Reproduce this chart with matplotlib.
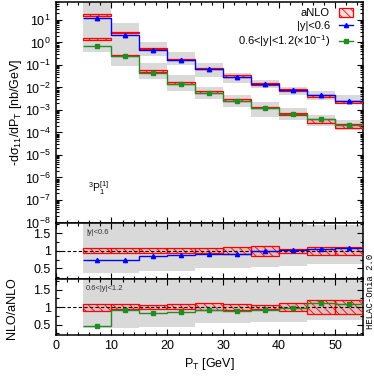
import matplotlib
matplotlib.use("Agg")
import matplotlib.pyplot as plt
import numpy as np
from matplotlib.patches import Patch
from matplotlib.lines import Line2D
from matplotlib.ticker import MultipleLocator, LogLocator, NullFormatter

plt.rcParams['font.family'] = ['Liberation Sans', 'DejaVu Sans']
plt.rcParams['mathtext.fontset'] = 'custom'
plt.rcParams['mathtext.rm'] = 'Liberation Sans'
plt.rcParams['mathtext.it'] = 'Liberation Sans:italic'
plt.rcParams['hatch.linewidth'] = 0.6

# ---------------- data ----------------
pt_edges = [5, 10, 15, 20, 25, 30, 35, 40, 45, 50, 55]

# main panel, |y|<0.6
anlo_y1 = [16.6, 2.8, 0.55, 0.18, 0.071, 0.031, 0.0145, 0.0078, 0.0042, 0.0023]
nlo_y1 = [12.5, 2.1, 0.46, 0.158, 0.064, 0.029, 0.0142, 0.0080, 0.0044, 0.0025]
gray_y1_lo = [3.5, 0.8, 0.25, 0.1, 0.030, 0.0154, 0.0092, 0.00464, 0.00278, 0.00185]
gray_y1_hi = [100, 7.6, 1.1, 0.39, 0.126, 0.0455, 0.0215, 0.0109, 0.0070, 0.00464]

# main panel, 0.6<|y|<1.2 (x 0.1)
anlo_y2 = [1.43, 0.26, 0.054, 0.016, 0.0065, 0.0028, 0.00131, 0.00066, 0.00034, 0.0002]
nlo_y2 = [0.67, 0.24, 0.044, 0.014, 0.0059, 0.0025, 0.00119, 0.00064, 0.00038, 0.000216]
gray_y2_lo = [0.39, 0.094, 0.024, 0.0072, 0.0030, 0.00132, 0.000504, 0.00036, 0.000195, 0.000129]
gray_y2_hi = [3.5, 0.8, 0.12, 0.036, 0.0109, 0.00464, 0.00234, 0.00119, 0.0006, 0.00036]

# ratio panel |y|<0.6
ratio1_nlo = [0.75, 0.75, 0.84, 0.88, 0.90, 0.92, 0.98, 1.02, 1.04, 1.07]
ratio1_anlo_lo = [0.93, 0.94, 0.94, 0.94, 0.93, 0.92, 0.86, 0.93, 0.87, 0.87]
ratio1_anlo_hi = [1.08, 1.07, 1.07, 1.07, 1.07, 1.10, 1.14, 1.06, 1.12, 1.12]
ratio1_gray_lo = [0.37, 0.37, 0.44, 0.44, 0.52, 0.52, 0.55, 0.57, 0.62, 0.62]
ratio1_gray_hi = [2.5, 2.5, 2.5, 2.5, 2.5, 2.5, 2.5, 2.5, 1.73, 1.73]

# ratio panel 0.6<|y|<1.2
ratio2_nlo = [0.47, 0.92, 0.82, 0.87, 0.91, 0.89, 0.91, 0.97, 1.11, 1.08]
ratio2_anlo_lo = [0.89, 0.94, 0.94, 0.93, 0.91, 0.91, 0.93, 0.88, 0.79, 0.79]
ratio2_anlo_hi = [1.10, 1.075, 1.06, 1.08, 1.11, 1.075, 1.05, 1.11, 1.20, 1.20]
ratio2_gray_lo = [0.39, 0.39, 0.43, 0.43, 0.54, 0.54, 0.58, 0.58, 0.63, 0.63]
ratio2_gray_hi = [2.5] * 10

legend_labels = ['aNLO', '|y|<0.6', '0.6<|y|<1.2(×10$^{-1}$)']

# ---------------- figure ----------------
W, H = 374, 378
fig = plt.figure(figsize=(W / 100, H / 100), dpi=100)
L, R = 55.5 / W, 363 / W

def frac(top_px, bot_px):
    return [L, 1 - bot_px / H, R - L, (bot_px - top_px) / H]

ax = fig.add_axes(frac(1.5, 222.5))
ax1 = fig.add_axes(frac(222.5, 279))
ax2 = fig.add_axes(frac(279, 335))

edges = np.array(pt_edges, dtype=float)
centers = 0.5 * (edges[:-1] + edges[1:])
widths = np.diff(edges)

GRAY = '#d9d9d9'
RED = '#ff0000'
BLUE = '#0000ff'
GREEN = '#228b22'

def band(a, lo, hi, **kw):
    lo = np.asarray(lo); hi = np.asarray(hi)
    return a.bar(centers, hi - lo, bottom=lo, width=widths, align='center', **kw)

def anlo_band(a, lo, hi):
    band(a, lo, hi, facecolor=(1, 0, 0, 0.12), edgecolor=RED, hatch='\\\\\\\\',
         linewidth=0.9, zorder=3)

# main panel
band(ax, gray_y1_lo, gray_y1_hi, color=GRAY, linewidth=0, zorder=1)
band(ax, gray_y2_lo, gray_y2_hi, color=GRAY, linewidth=0, zorder=1)
a1 = np.array(anlo_y1); a2 = np.array(anlo_y2)
anlo_band(ax, a1 * np.array(ratio1_anlo_lo), a1 * np.array(ratio1_anlo_hi))
anlo_band(ax, a2 * np.array(ratio2_anlo_lo), a2 * np.array(ratio2_anlo_hi))
ax.stairs(nlo_y1, edges, baseline=None, color=BLUE, lw=1.0, zorder=4)
ax.plot(centers, nlo_y1, ls='none', marker='^', ms=3.2, color=BLUE, zorder=5)
ax.stairs(nlo_y2, edges, baseline=None, color=GREEN, lw=1.0, zorder=4)
ax.plot(centers, nlo_y2, ls='none', marker='s', ms=2.6, color=GREEN, zorder=5)

ax.set_yscale('log')
ax.set_ylim(1e-8, 10 ** 1.82)
ax.set_xlim(0, 55)
ax.yaxis.set_major_locator(LogLocator(base=10, numticks=20))
ax.yaxis.set_minor_locator(LogLocator(base=10, subs=np.arange(2, 10), numticks=20))
ax.yaxis.set_minor_formatter(NullFormatter())
ax.set_ylabel('-dσ$_{11}$/dP$_{\\mathrm{T}}$ [nb/GeV]', fontsize=9, labelpad=1)
ax.text(0.105, 0.14, '$^{3}$P$_{1}^{[1]}$', transform=ax.transAxes, fontsize=7.5)

handles = [Patch(facecolor=(1, 0, 0, 0.12), edgecolor=RED, hatch='\\\\\\\\', linewidth=0.9),
           Line2D([], [], color=BLUE, marker='^', ms=3, lw=1),
           Line2D([], [], color=GREEN, marker='s', ms=2.5, lw=1)]
leg = ax.legend(handles, legend_labels, loc='upper right', frameon=False, markerfirst=False,
                fontsize=8, handlelength=1.3, handleheight=0.8, labelspacing=0.2,
                borderaxespad=0.2, handletextpad=0.8, bbox_to_anchor=(0.99, 1.0))

# ratio panels
def ratio_panel(a, gl, gh, alo, ahi, rn, color, marker, ms, label):
    band(a, gl, gh, color=GRAY, linewidth=0, zorder=1)
    anlo_band(a, alo, ahi)
    a.axhline(1.0, color='black', ls=(0, (3, 2)), lw=0.8, zorder=4)
    a.stairs(rn, edges, baseline=None, color=color, lw=1.0, zorder=5)
    a.plot(centers, rn, ls='none', marker=marker, ms=ms, color=color, zorder=6)
    a.set_xlim(0, 55)
    a.set_ylim(0.2, 1.8)
    a.yaxis.set_minor_locator(MultipleLocator(0.25))
    a.set_yticks([0.5, 1, 1.5])
    a.set_yticklabels(['0.5', '1', '1.5'])
    a.text(0.1, 0.8, label, transform=a.transAxes, fontsize=5.5, color='#333333')

ratio_panel(ax1, ratio1_gray_lo, ratio1_gray_hi, ratio1_anlo_lo, ratio1_anlo_hi,
            ratio1_nlo, BLUE, '^', 3.0, '|y|<0.6')
ratio_panel(ax2, ratio2_gray_lo, ratio2_gray_hi, ratio2_anlo_lo, ratio2_anlo_hi,
            ratio2_nlo, GREEN, 's', 2.5, '0.6<|y|<1.2')

for a in (ax, ax1, ax2):
    a.xaxis.set_major_locator(MultipleLocator(10))
    a.xaxis.set_minor_locator(MultipleLocator(2))
    a.tick_params(which='both', direction='in', top=True, right=True, labelsize=9,
                  width=0.8)
    a.tick_params(which='major', length=4.5)
    a.tick_params(which='minor', length=2.5)
    for s in a.spines.values():
        s.set_linewidth(1.1)
    a.set_axisbelow(False)

ax.tick_params(labelbottom=False)
ax1.tick_params(labelbottom=False)
ax2.set_xlabel('P$_{\\mathrm{T}}$ [GeV]', fontsize=9, labelpad=3)

fig.text(0.032, 1 - 308 / H, 'NLO/aNLO', rotation=90, va='center', ha='center', fontsize=9)
fig.text(0.99, 1 - 291 / H, 'HELAC-Onia 2.0', rotation=90, va='center', ha='center',
         fontsize=6.5, family='Liberation Mono')

fig.savefig('out.png', dpi=100)
